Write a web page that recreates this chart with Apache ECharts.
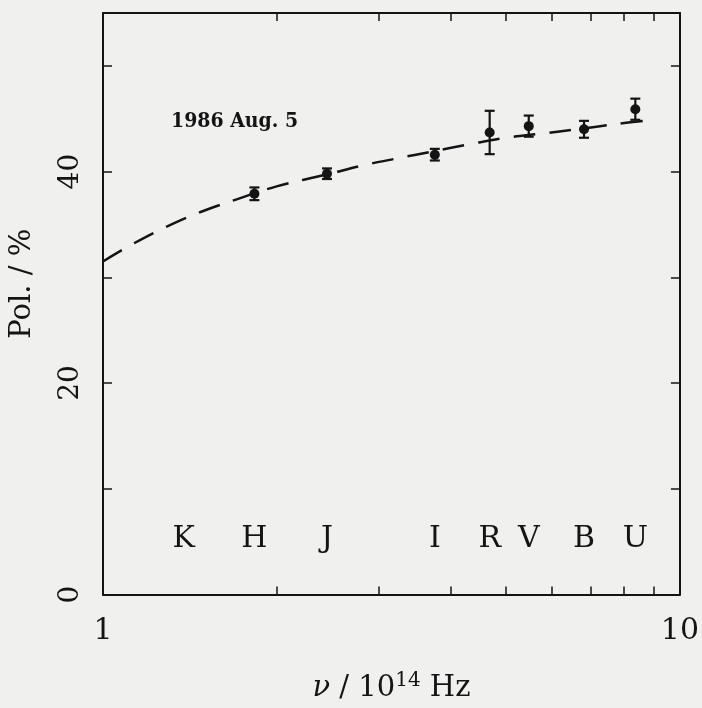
<!DOCTYPE html>
<html>
<head>
<meta charset="utf-8">
<script src="https://cdn.jsdelivr.net/npm/echarts@6/dist/echarts.min.js"></script>
<style>
html,body{margin:0;padding:0;background:#f0f0ee;}
#c{width:702px;height:708px;}
</style>
</head>
<body>
<div id="c"></div>
<script>
// ---- data ----
const bandNames = ['K', 'H', 'J', 'I', 'R', 'V', 'B', 'U'];
const bandFreq = [1.38, 1.83, 2.445, 3.76, 4.68, 5.47, 6.82, 8.37];
const bandLabelLevel = 5.2;

const obsFreq = [1.83, 2.445, 3.76, 4.68, 5.47, 6.82, 8.37];
const obsPol  = [37.9, 39.8, 41.6, 43.7, 44.3, 44.0, 45.9];
const obsErr  = [0.6, 0.5, 0.55, 2.05, 1.0, 0.8, 1.0];

const fitFreq = [1.0, 1.13, 1.29, 1.48, 1.71, 2.0, 2.43, 2.83, 3.27, 3.72, 4.33, 5.0, 5.77, 6.62, 7.76, 8.97];
const fitPol  = [31.5, 33.2, 34.8, 36.2, 37.4, 38.6, 39.7, 40.6, 41.3, 41.9, 42.6, 43.2, 43.6, 44.0, 44.5, 44.9];

const xTickValues = [1, 2, 3, 4, 5, 6, 7, 8, 9, 10];
const xLabelValues = [1, 10];
const yMin = 0, yMax = 55, yStep = 10, yLabelStep = 20;
const dateNote = '1986 Aug. 5';

// ---- chart ----
const ink = '#141414';
const serif = '"DejaVu Serif", "Liberation Serif", serif';
const chart = echarts.init(document.getElementById('c'));

const xCommon = {
  type: 'log', logBase: 10, min: 1, max: 10,
  axisLine: {show: true, onZero: false, lineStyle: {color: ink, width: 2}},
  axisTick: {show: true, inside: true, length: 8, customValues: xTickValues, lineStyle: {color: ink, width: 1.5}},
  splitLine: {show: false}
};
const yCommon = {
  type: 'value', min: yMin, max: yMax, interval: yStep,
  axisLine: {show: true, onZero: false, lineStyle: {color: ink, width: 2}},
  axisTick: {show: true, inside: true, length: 9, lineStyle: {color: ink, width: 1.5}},
  splitLine: {show: false}
};

const errData = obsFreq.map((f, i) => [f, obsPol[i] - obsErr[i], obsPol[i] + obsErr[i]]);

chart.setOption({
  backgroundColor: '#f0f0ee',
  animation: false,
  grid: {left: 101, right: 20, top: 13, bottom: 113, containLabel: false},
  graphic: [{
    type: 'text', left: 171, top: 111,
    style: {text: dateNote, font: 'bold 21px "DejaVu Serif Condensed", "DejaVu Serif", serif', fill: ink}
  }],
  xAxis: [
    Object.assign({}, xCommon, {
      position: 'bottom',
      axisLabel: {show: true, customValues: xLabelValues, margin: 22, color: ink, fontFamily: serif, fontSize: 30},
      name: '{it|ν} / 10{sup|14} Hz',
      nameLocation: 'middle', nameGap: 76,
      nameTextStyle: {
        color: ink, fontFamily: serif, fontSize: 29,
        rich: {
          it: {fontStyle: 'italic', fontFamily: serif, fontSize: 29, color: ink},
          sup: {fontFamily: serif, fontSize: 20, color: ink, padding: [0, 0, 16, 0]}
        }
      }
    }),
    Object.assign({}, xCommon, {position: 'top', axisLabel: {show: false}})
  ],
  yAxis: [
    Object.assign({}, yCommon, {
      position: 'left',
      axisLabel: {
        show: true, rotate: 90, margin: 18, color: ink, fontFamily: serif, fontSize: 28,
        formatter: v => (v % yLabelStep === 0 ? String(v) : '')
      },
      name: 'Pol. / %', nameLocation: 'middle', nameGap: 66, nameRotate: 90,
      nameTextStyle: {color: ink, fontFamily: serif, fontSize: 29, padding: [0, 0, 0, 40]}
    }),
    Object.assign({}, yCommon, {position: 'right', axisLabel: {show: false}})
  ],
  series: [
    {
      type: 'line', name: 'fit', smooth: 0.4, showSymbol: false, symbol: 'none',
      data: fitFreq.map((f, i) => [f, fitPol[i]]),
      lineStyle: {color: ink, width: 2.5, type: [22, 14]}, z: 2
    },
    {
      type: 'custom', name: 'err',
      renderItem: function (params, api) {
        const x = api.value(0);
        const lo = api.coord([x, api.value(1)]);
        const hi = api.coord([x, api.value(2)]);
        const cap = 5;
        const st = {stroke: ink, lineWidth: 2.2};
        return {type: 'group', children: [
          {type: 'line', shape: {x1: lo[0], y1: lo[1], x2: hi[0], y2: hi[1]}, style: st},
          {type: 'line', shape: {x1: lo[0] - cap, y1: lo[1], x2: lo[0] + cap, y2: lo[1]}, style: st},
          {type: 'line', shape: {x1: hi[0] - cap, y1: hi[1], x2: hi[0] + cap, y2: hi[1]}, style: st}
        ]};
      },
      encode: {x: 0, y: [1, 2]},
      data: errData, z: 3
    },
    {
      type: 'scatter', name: 'obs', symbol: 'circle', symbolSize: 10,
      itemStyle: {color: ink, opacity: 1},
      data: obsFreq.map((f, i) => [f, obsPol[i]]), z: 4
    },
    {
      type: 'scatter', name: 'bands', symbolSize: 0,
      itemStyle: {opacity: 1, color: ink},
      data: bandFreq.map((f, i) => ({name: bandNames[i], value: [f, bandLabelLevel]})),
      label: {show: true, position: 'inside', formatter: p => p.name, color: ink, opacity: 1, fontFamily: serif, fontSize: 30},
      z: 5
    }
  ]
});
</script>
</body>
</html>
